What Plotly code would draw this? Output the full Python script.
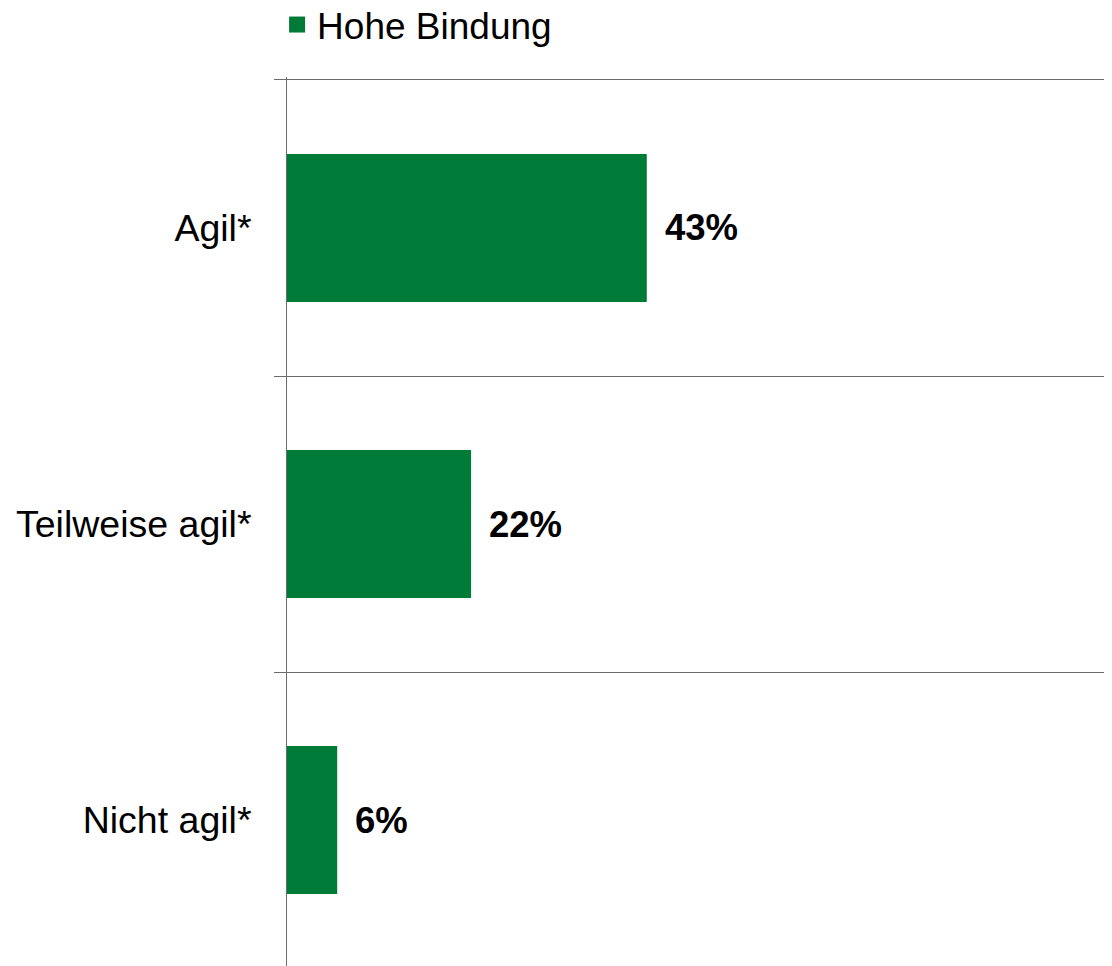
import plotly.graph_objects as go

categories = ["Agil*", "Teilweise agil*", "Nicht agil*"]
values = [43, 22, 6]
series_name = "Hohe Bindung"

GREEN = "#007A37"
LINE = "#6b6b6b"
FONT = "Liberation Sans, Arial, sans-serif"

fig = go.Figure()
fig.add_trace(go.Bar(
    x=values,
    y=categories,
    orientation="h",
    name=series_name,
    marker=dict(color=GREEN, line=dict(width=0)),
    width=0.5,
    showlegend=False,
    hoverinfo="skip",
))
# legend entry with a bigger square symbol
fig.add_trace(go.Scatter(
    x=[None], y=[None], mode="markers", name=series_name,
    marker=dict(symbol="square", size=20, color=GREEN),
    showlegend=True,
))

# value labels to the right of each bar
for cat, v in zip(categories, values):
    fig.add_annotation(
        x=v, y=cat, text=f"<b>{v}%</b>",
        xanchor="left", yanchor="middle", xshift=16, showarrow=False,
        font=dict(family=FONT, size=36.5, color="#000000"),
    )

fig.update_layout(
    width=1104,
    height=958,
    paper_bgcolor="white",
    plot_bgcolor="white",
    margin=dict(l=279, r=0, t=69, b=0, autoexpand=False),
    font=dict(family=FONT, color="#000000"),
    showlegend=True,
    legend=dict(
        orientation="h", x=-0.012, xanchor="left",
        y=1.0585, yanchor="middle",
        font=dict(family=FONT, size=37, color="#000000"),
        bgcolor="rgba(0,0,0,0)",
    ),
    xaxis=dict(
        range=[0, 98.6], visible=False, showgrid=False, zeroline=False,
    ),
    yaxis=dict(
        range=[2.493, -0.51],
        tickson="boundaries",
        showgrid=True, gridcolor=LINE, gridwidth=1,
        ticks="outside", ticklen=12, tickcolor=LINE, tickwidth=1,
        showline=True, linecolor=LINE, linewidth=1,
        tickfont=dict(family=FONT, size=37.5, color="#000000"),
        ticklabelstandoff=27,
    ),
)

fig.write_html("out.html")
